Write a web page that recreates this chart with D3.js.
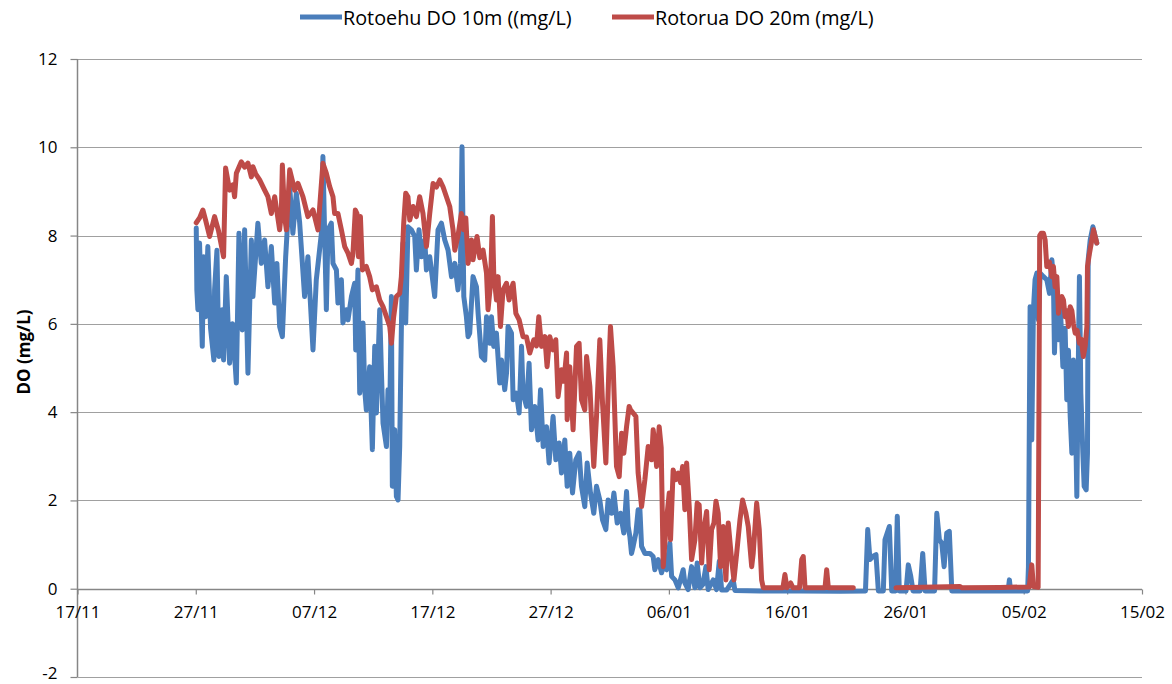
<!DOCTYPE html>
<html>
<head>
<meta charset="utf-8">
<script src="https://cdn.jsdelivr.net/npm/d3@7"></script>
<style>
  html, body { margin: 0; padding: 0; background: #ffffff; }
  svg { display: block; }
  text { font-family: "Open Sans", "DejaVu Sans", sans-serif; fill: #000; }
</style>
</head>
<body>
<svg id="chart" width="1172" height="684"></svg>
<script>
// Dissolved oxygen records, time as days after 17 November
const startDate = Date.UTC(2012, 10, 17);

const seriesNames = ["Rotoehu DO 10m ((mg/L)", "Rotorua DO 20m (mg/L)"];
const yTicks = [-2, 0, 2, 4, 6, 8, 10, 12];
const xTickDays = [0, 10, 20, 30, 40, 50, 60, 70, 80, 90];
const yTitle = "DO (mg/L)";

const rotoehuDay = [
  10.04, 10.09, 10.18, 10.32, 10.55, 10.66, 10.83, 11.02, 11.25, 11.53, 11.59, 11.79, 11.95, 12.24, 12.35, 12.58,
  12.86, 13.11, 13.43, 13.65, 13.93, 14.13, 14.41, 14.7, 14.83, 15.25, 15.54, 15.82, 16.1, 16.39, 16.67, 16.86,
  17.09, 17.32, 17.6, 17.94, 18.21, 18.5, 18.78, 19.2, 19.48, 19.91, 20.19, 20.62, 20.75, 21.04, 21.18, 21.46,
  21.6, 21.89, 22.02, 22.31, 22.44, 22.73, 22.87, 23.16, 23.43, 23.52, 23.71, 23.86, 24.14, 24.28, 24.42, 24.7,
  24.93, 25.13, 25.27, 25.55, 25.69, 25.83, 26.12, 26.25, 26.4, 26.54, 26.62, 26.82, 26.96, 27.1, 27.24, 27.38,
  27.52, 27.75, 27.94, 28.23, 28.51, 28.65, 28.87, 29.08, 29.36, 29.5, 29.78, 30.2, 30.48, 30.77, 31.05, 31.33,
  31.62, 31.9, 32.17, 32.38, 32.51, 32.66, 32.88, 33.02, 33.16, 33.44, 33.73, 33.87, 34.15, 34.43, 34.58, 34.86,
  35.0, 35.19, 35.42, 35.7, 35.85, 36.12, 36.27, 36.4, 36.69, 36.83, 37.11, 37.34, 37.54, 37.67, 37.96, 38.18,
  38.38, 38.66, 38.94, 39.15, 39.37, 39.65, 39.87, 40.21, 40.44, 40.72, 40.92, 41.2, 41.4, 41.62, 41.85, 42.13,
  42.41, 42.61, 42.89, 43.09, 43.37, 43.65, 43.88, 44.16, 44.39, 44.67, 44.86, 45.15, 45.35, 45.63, 45.91, 46.19,
  46.42, 46.56, 46.7, 46.84, 46.98, 47.21, 47.4, 47.55, 47.69, 47.97, 48.39, 48.67, 48.81, 49.1, 49.38, 49.52,
  49.8, 50.08, 50.23, 50.51, 50.79, 51.21, 51.35, 51.63, 51.92, 52.2, 52.39, 52.62, 52.88, 53.13, 53.32, 53.75,
  54.03, 54.26, 54.46, 54.88, 55.44, 55.58, 57.7, 61.08, 64.47, 66.62, 66.81, 67.0, 67.23, 67.51, 67.71, 68.13,
  68.27, 68.64, 68.84, 69.16, 69.31, 69.48, 70.05, 70.24, 70.45, 70.64, 71.24, 71.46, 71.66, 72.46, 72.65, 72.87,
  73.07, 73.27, 73.49, 73.71, 73.92, 78.68, 78.79, 78.89, 80.33, 80.4, 80.48, 80.54, 80.68, 80.82, 80.96, 81.11,
  81.24, 81.39, 81.67, 81.95, 82.18, 82.38, 82.51, 82.6, 82.74, 82.94, 83.08, 83.31, 83.5, 83.64, 83.78, 83.93,
  84.07, 84.2, 84.35, 84.49, 84.63, 84.71, 84.83, 85.0, 85.11, 85.28, 85.39, 85.45, 85.62, 85.85, 86.04, 86.18
];
const rotoehuDO = [
  8.17, 6.77, 6.32, 7.83, 5.49, 7.52, 6.16, 7.75, 5.9, 5.18, 6.77, 7.67, 5.26, 6.32, 5.18, 7.07,
  5.11, 6.0, 4.66, 8.05, 5.86, 8.13, 4.88, 7.9, 6.62, 8.28, 7.37, 7.9, 6.84, 7.75, 6.47, 7.37,
  5.94, 5.71, 7.52, 9.11, 8.05, 8.96, 8.3, 6.62, 7.52, 5.41, 7.0, 8.05, 9.79, 6.32, 8.13, 8.28,
  7.37, 7.22, 6.47, 7.0, 6.02, 6.32, 6.09, 6.62, 6.92, 5.41, 7.22, 4.43, 6.02, 4.51, 4.05, 5.03,
  3.15, 5.49, 3.98, 6.32, 4.96, 3.75, 3.22, 4.51, 3.98, 6.62, 2.32, 3.6, 2.09, 2.01, 3.22, 5.86,
  7.83, 6.02, 8.2, 8.13, 7.98, 7.22, 8.13, 7.52, 7.9, 7.22, 7.52, 6.62, 8.13, 8.28, 7.9, 7.67,
  7.07, 7.37, 6.77, 7.37, 10.01, 6.62, 6.16, 5.71, 5.79, 7.07, 6.84, 6.24, 5.26, 5.18, 6.16, 5.56,
  6.16, 5.49, 5.79, 4.66, 5.18, 4.51, 4.88, 5.94, 5.79, 4.28, 4.43, 3.98, 5.49, 4.43, 4.13, 5.11,
  3.6, 4.13, 3.37, 4.51, 3.22, 3.67, 2.85, 3.9, 2.92, 3.3, 2.62, 3.37, 2.32, 3.07, 2.17, 2.92,
  3.07, 2.32, 1.86, 2.85, 2.17, 1.71, 2.32, 2.01, 1.56, 1.34, 2.01, 1.71, 2.17, 1.49, 1.71, 1.26,
  2.2, 1.41, 1.18, 0.8, 0.96, 1.26, 1.79, 1.79, 0.96, 0.8, 0.8, 0.73, 0.43, 0.66, 0.36, 0.5,
  0.43, 1.03, 0.28, 0.2, 0.02, 0.43, 0.13, -0.02, 0.5, 0.02, 0.58, 0.02, 0.1, 0.5, -0.02, 0.2,
  -0.02, 0.62, -0.03, -0.03, 0.2, -0.04, -0.05, -0.05, -0.06, -0.05, 1.34, 0.66, 0.73, 0.77, -0.05, -0.05,
  1.11, 1.41, -0.05, -0.05, 1.64, -0.05, -0.05, 0.54, 0.28, -0.05, -0.05, 0.8, -0.05, -0.05, 1.71, 1.11,
  1.03, 0.5, 1.26, 1.3, -0.05, -0.05, 0.2, -0.05, -0.05, 0.5, 3.98, 6.39, 3.37, 6.32, 7.0, 7.15,
  6.09, 7.15, 7.07, 7.0, 6.69, 7.45, 7.0, 5.34, 6.54, 5.64, 6.5, 5.03, 5.9, 4.28, 5.4, 3.9,
  3.07, 5.18, 4.3, 2.09, 5.41, 7.07, 4.43, 3.07, 2.32, 2.24, 3.07, 7.45, 7.9, 8.2, 7.98, 7.83
];

// null marks the break in the Rotorua record
const rotoruaDay = [
  10.04, 10.32, 10.6, 10.83, 11.17, 11.59, 11.93, 12.35, 12.52, 12.86, 13.14, 13.28, 13.43, 13.85, 14.13, 14.41,
  14.7, 14.83, 15.06, 15.4, 15.82, 16.1, 16.39, 16.67, 17.09, 17.23, 17.32, 17.51, 17.66, 17.94, 18.36, 18.64,
  19.06, 19.48, 19.91, 20.33, 20.75, 21.04, 21.32, 21.6, 21.74, 22.02, 22.31, 22.59, 22.87, 23.16, 23.29, 23.49,
  23.63, 23.75, 23.92, 24.09, 24.42, 24.7, 24.93, 25.27, 25.55, 25.83, 26.12, 26.4, 26.54, 26.73, 26.96, 27.24,
  27.38, 27.58, 27.75, 27.94, 28.09, 28.37, 28.65, 28.93, 29.21, 29.5, 29.78, 30.06, 30.35, 30.63, 30.91, 31.19,
  31.47, 31.75, 31.9, 32.17, 32.46, 32.66, 32.83, 33.02, 33.31, 33.44, 33.78, 34.01, 34.29, 34.58, 34.71, 34.92,
  35.08, 35.19, 35.42, 35.56, 35.76, 35.98, 36.27, 36.49, 36.69, 36.83, 37.06, 37.34, 37.67, 37.96, 38.24, 38.58,
  38.81, 39.0, 39.23, 39.51, 39.7, 39.93, 40.21, 40.44, 40.63, 40.92, 41.12, 41.35, 41.4, 41.62, 41.9, 42.19,
  42.41, 42.61, 42.89, 43.04, 43.32, 43.65, 43.88, 44.16, 44.39, 44.67, 44.95, 45.06, 45.29, 45.57, 45.8, 46.0,
  46.19, 46.42, 46.64, 46.76, 46.98, 47.21, 47.4, 47.69, 47.97, 48.25, 48.54, 48.67, 48.81, 48.96, 49.18, 49.35,
  49.52, 49.8, 50.03, 50.14, 50.36, 50.59, 50.79, 50.99, 51.16, 51.35, 51.5, 51.72, 51.92, 52.2, 52.39, 52.56,
  52.77, 52.96, 53.19, 53.41, 53.61, 53.81, 53.98, 54.17, 54.37, 54.6, 54.82, 55.02, 55.3, 55.5, 55.73, 56.01,
  56.23, 56.51, 56.71, 57.0, 57.13, 57.42, 57.64, 57.84, 57.98, 59.64, 59.81, 59.98, 60.3, 60.49, 61.04, 61.23,
  61.36, 61.51, 63.2, 63.34, 63.48, 65.59, 65.6, 69.2, 74.62, 74.79, 78.0, 80.46, 80.68, 80.82, 81.22, 81.35,
  81.47, 81.67, 81.81, 81.95, 82.18, 82.38, 82.51, 82.65, 82.8, 82.94, 83.08, 83.22, 83.36, 83.5, 83.64, 83.78,
  83.93, 84.07, 84.2, 84.35, 84.52, 84.71, 84.86, 85.04, 85.2, 85.34, 85.39, 85.56, 85.76, 85.9, 86.18
];
const rotoruaDO = [
  8.29, 8.4, 8.58, 8.35, 7.98, 8.43, 8.1, 7.52, 9.53, 9.03, 9.15, 8.88, 9.41, 9.67, 9.55, 9.64,
  9.33, 9.56, 9.4, 9.26, 9.03, 8.88, 8.5, 8.88, 8.13, 8.5, 9.6, 8.43, 8.13, 9.49, 9.03, 9.18,
  8.88, 8.43, 8.58, 8.13, 9.64, 9.41, 9.11, 8.88, 8.5, 8.5, 8.13, 7.75, 7.6, 7.37, 7.6, 8.58,
  8.5, 7.52, 8.43, 7.22, 7.3, 7.07, 6.77, 6.84, 6.54, 6.39, 6.16, 5.94, 5.56, 6.16, 6.62, 6.69,
  7.07, 8.28, 8.96, 8.88, 8.35, 8.66, 8.43, 8.88, 8.5, 7.75, 8.5, 9.18, 9.1, 9.26, 9.1, 8.88,
  8.66, 8.13, 7.67, 8.0, 8.5, 8.13, 8.4, 7.37, 7.9, 7.45, 7.98, 7.5, 7.67, 7.15, 6.32, 6.9,
  8.43, 7.15, 6.54, 7.07, 5.94, 6.77, 6.92, 6.54, 6.8, 6.92, 6.24, 6.09, 5.71, 5.7, 5.34, 5.64,
  5.5, 6.16, 5.49, 5.71, 5.03, 5.71, 5.41, 5.64, 4.35, 4.96, 4.7, 5.34, 3.83, 5.03, 3.6, 5.49,
  5.56, 4.28, 4.05, 5.26, 4.58, 2.77, 3.9, 5.64, 4.2, 2.85, 5.18, 5.94, 5.03, 2.77, 2.54, 3.52,
  3.07, 3.67, 4.13, 4.05, 3.98, 3.9, 2.62, 1.86, 2.47, 3.22, 2.92, 3.6, 3.3, 2.77, 3.67, 3.2,
  0.5, 1.56, 2.17, 1.11, 2.69, 2.47, 2.62, 2.4, 2.77, 1.79, 2.85, 1.86, 0.66, 1.11, 1.94, 1.9,
  0.58, 1.34, 1.75, 0.43, 1.34, 1.49, 1.98, 1.71, 0.5, 1.41, 0.2, 1.49, 0.66, 0.2, 0.8, 1.56,
  2.01, 1.71, 1.41, 0.5, 0.8, 1.94, 1.34, 0.2, 0.02, 0.02, 0.32, 0.02, 0.13, 0.02, 0.02, 0.66,
  0.73, 0.02, 0.02, 0.43, 0.02, 0.02, null, 0.02, 0.05, 0.02, 0.03, 0.04, 0.54, 0.05, 0.03, 8.0,
  8.05, 8.05, 7.9, 7.3, 7.4, 7.07, 7.3, 6.84, 7.07, 6.24, 6.54, 6.62, 6.54, 6.16, 6.3, 5.94,
  6.39, 6.3, 6.0, 5.79, 5.85, 5.56, 5.65, 5.26, 5.5, 5.94, 7.3, 7.6, 7.9, 8.13, 7.83
];

const colors = ["#4A7EBB", "#BE4B48"];

const dayMs = 86400000;
const toDate = d => new Date(startDate + d * dayMs);

const svg = d3.select("#chart");
const plotLeft = 77.5, plotRight = 1142, plotTop = 59, plotBottom = 677;

const x = d3.scaleUtc()
  .domain([toDate(0), toDate(90)])
  .range([plotLeft, plotRight]);
const y = d3.scaleLinear()
  .domain([-2, 12])
  .range([plotBottom, plotTop]);

// horizontal gridlines
svg.append("g")
  .selectAll("line")
  .data(yTicks.filter(v => v !== 0))
  .join("line")
  .attr("x1", plotLeft).attr("x2", plotRight)
  .attr("y1", v => Math.round(y(v)) + 0.5).attr("y2", v => Math.round(y(v)) + 0.5)
  .attr("stroke", "#A0A0A0").attr("stroke-width", 1);

// vertical axis with ticks to the left
const yAxis = svg.append("g")
  .attr("transform", `translate(${plotLeft},0)`)
  .call(d3.axisLeft(y).tickValues(yTicks).tickSize(7).tickPadding(13).tickFormat(v => String(v)));
yAxis.select(".domain").attr("stroke", "#868686").attr("stroke-width", 1.5).attr("d", `M0,${plotTop}V${plotBottom}`);
yAxis.selectAll(".tick line").attr("stroke", "#868686").attr("stroke-width", 1.2);
yAxis.selectAll(".tick text").style("font-size", "17px").attr("fill", "#000");
// keep the lowest label inside the page edge
yAxis.selectAll(".tick text").filter(v => v === -2).attr("dy", "0.1em");

// time axis crossing at zero
const xAxis = svg.append("g")
  .attr("transform", `translate(0,${Math.round(y(0)) + 0.5})`)
  .call(d3.axisBottom(x)
    .tickValues(xTickDays.map(toDate))
    .tickSize(5).tickPadding(11)
    .tickFormat(d3.utcFormat("%d/%m")));
xAxis.select(".domain").attr("stroke", "#868686").attr("stroke-width", 1.5).attr("d", `M${plotLeft},0H${plotRight}`);
xAxis.selectAll(".tick line").attr("stroke", "#868686").attr("stroke-width", 1.2);
xAxis.selectAll(".tick text").style("font-size", "17px").attr("fill", "#000");

// axis title
svg.append("text")
  .attr("transform", "translate(23,352) rotate(-90)")
  .attr("text-anchor", "middle")
  .attr("dominant-baseline", "central")
  .style("font-size", "17px")
  .style("font-weight", "bold")
  .text(yTitle);

// data lines
const line = d3.line()
  .defined(p => p[1] !== null)
  .x(p => x(toDate(p[0])))
  .y(p => y(p[1]));

const series = [
  rotoehuDay.map((d, i) => [d, rotoehuDO[i]]),
  rotoruaDay.map((d, i) => [d, rotoruaDO[i]])
];

svg.append("g")
  .selectAll("path")
  .data(series)
  .join("path")
  .attr("d", line)
  .attr("fill", "none")
  .attr("stroke", (s, i) => colors[i])
  .attr("stroke-width", 5)
  .attr("stroke-linejoin", "round")
  .attr("stroke-linecap", "round");

// legend
const legendItems = [
  { name: seriesNames[0], color: colors[0], x0: 300 },
  { name: seriesNames[1], color: colors[1], x0: 612 }
];
const legend = svg.append("g");
legendItems.forEach(item => {
  legend.append("line")
    .attr("x1", item.x0).attr("x2", item.x0 + 42)
    .attr("y1", 17).attr("y2", 17)
    .attr("stroke", item.color).attr("stroke-width", 5);
  legend.append("text")
    .attr("x", item.x0 + 43).attr("y", 17)
    .attr("dominant-baseline", "central")
    .style("font-size", "19.8px")
    .text(item.name);
});
</script>
</body>
</html>
